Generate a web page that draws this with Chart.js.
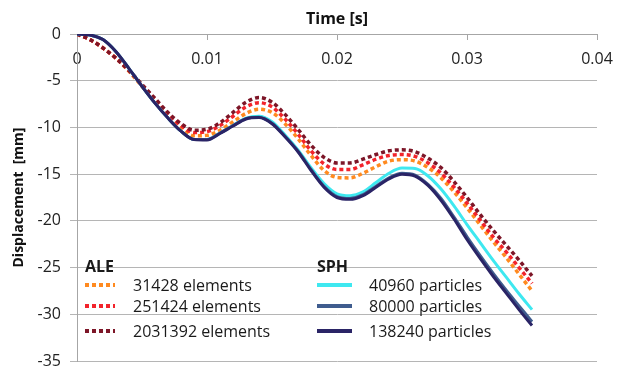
<!DOCTYPE html>
<html>
<head>
<meta charset="utf-8">
<script src="https://cdn.jsdelivr.net/npm/chart.js@4.4.1/dist/chart.umd.min.js"></script>
<style>
    html, body { margin: 0; padding: 0; background: #fff; }
    #wrap { position: relative; width: 624px; height: 367px; font-family: 'Open Sans', sans-serif; }
    .lg { position: absolute; font-size: 16px; color: #1a1a1a; white-space: nowrap; line-height: 20px; }
    .hd { font-weight: bold; }
    .sw { position: absolute; height: 4px; }
</style>
</head>
<body>
<div id="wrap">
    <canvas id="dispChart" width="624" height="367"></canvas>
    <div id="legend"></div>
</div>
<script>
const times = [0, 0.001, 0.002, 0.003, 0.004, 0.005, 0.006, 0.007, 0.008, 0.009,
    0.010, 0.011, 0.012, 0.013, 0.014, 0.015, 0.016, 0.017, 0.018, 0.019,
    0.020, 0.021, 0.022, 0.023, 0.024, 0.025, 0.026, 0.027, 0.028, 0.029,
    0.030, 0.031, 0.032, 0.033, 0.034, 0.035];

// ALE (dotted)
const ale31428 = [0, -0.6, -1.5, -2.6, -4.0, -5.6, -7.2, -8.8, -10.1, -10.9,
    -10.85, -10.3, -9.4, -8.5, -8.05, -8.4, -9.6, -11.2, -13.0, -14.6,
    -15.35, -15.4, -14.9, -14.2, -13.6, -13.45, -13.6, -14.3, -15.4, -16.9,
    -18.6, -20.4, -22.2, -23.9, -25.7, -27.5];
const ale251424 = [0, -0.6, -1.5, -2.6, -3.9, -5.5, -7.0, -8.6, -9.8, -10.55,
    -10.45, -9.8, -8.8, -7.8, -7.35, -7.8, -9.1, -10.7, -12.5, -13.9,
    -14.5, -14.5, -14.0, -13.4, -13.0, -12.9, -13.1, -13.8, -14.9, -16.4,
    -18.1, -19.9, -21.7, -23.3, -25.0, -26.7];
const ale2031392 = [0, -0.6, -1.5, -2.6, -3.9, -5.4, -6.9, -8.4, -9.6, -10.3,
    -10.2, -9.5, -8.4, -7.3, -6.8, -7.3, -8.6, -10.2, -11.9, -13.2,
    -13.8, -13.8, -13.4, -12.9, -12.5, -12.4, -12.6, -13.3, -14.3, -15.8,
    -17.5, -19.3, -21.0, -22.6, -24.2, -25.9];

// SPH (solid)
const sph40960 = [0, -0.1, -0.6, -1.9, -3.7, -5.6, -7.4, -9.0, -10.4, -11.3,
    -11.3, -10.6, -9.8, -9.0, -8.8, -9.4, -10.8, -12.4, -14.3, -16.0,
    -17.1, -17.3, -16.9, -15.9, -14.9, -14.35, -14.4, -15.2, -16.6, -18.4,
    -20.4, -22.3, -24.2, -26.0, -27.8, -29.5];
const sph80000 = [0, -0.1, -0.6, -1.9, -3.7, -5.6, -7.4, -9.0, -10.4, -11.3,
    -11.3, -10.6, -9.8, -9.05, -8.9, -9.55, -10.95, -12.55, -14.5, -16.3,
    -17.4, -17.6, -17.2, -16.3, -15.4, -14.9, -15.1, -16.1, -17.6, -19.6,
    -21.7, -23.7, -25.6, -27.4, -29.1, -30.8];
const sph138240 = [0, -0.1, -0.6, -1.9, -3.7, -5.6, -7.4, -9.0, -10.4, -11.3,
    -11.35, -10.65, -9.85, -9.1, -8.95, -9.6, -11.0, -12.6, -14.6, -16.4,
    -17.5, -17.7, -17.3, -16.4, -15.5, -15.0, -15.2, -16.2, -17.8, -19.8,
    -22.0, -24.0, -25.9, -27.7, -29.5, -31.2];

const xTickLabels = ['0', '0.01', '0.02', '0.03', '0.04'];

const aleSeries = [
    { label: '31428 elements', data: ale31428, color: '#ff8a1f' },
    { label: '251424 elements', data: ale251424, color: '#f2232b' },
    { label: '2031392 elements', data: ale2031392, color: '#7d1628' }
];
const sphSeries = [
    { label: '40960 particles', data: sph40960, color: '#3ee8f0' },
    { label: '80000 particles', data: sph80000, color: '#3f5c8e' },
    { label: '138240 particles', data: sph138240, color: '#2a2466' }
];

const pts = vals => vals.map((v, i) => ({ x: times[i], y: v }));

// later entries should sit on top, chart.js paints index 0 last
const datasets = [];
[...sphSeries].reverse().forEach(s => datasets.push({
    label: s.label, data: pts(s.data), borderColor: s.color, borderWidth: 3,
    pointRadius: 0, cubicInterpolationMode: 'monotone', fill: false
}));
[...aleSeries].reverse().forEach(s => datasets.push({
    label: s.label, data: pts(s.data), borderColor: s.color, borderWidth: 3.5,
    borderDash: [4, 3], pointRadius: 0, cubicInterpolationMode: 'monotone', fill: false
}));

const topTitle = {
    id: 'topTitle',
    afterDraw(c) {
        const { ctx, chartArea } = c;
        ctx.save();
        ctx.font = 'bold 16px "Open Sans"';
        ctx.fillStyle = '#111';
        ctx.textAlign = 'center';
        ctx.textBaseline = 'middle';
        ctx.fillText('Time [s]', (chartArea.left + chartArea.right) / 2, 19);
        ctx.restore();
    }
};

new Chart(document.getElementById('dispChart'), {
    type: 'line',
    data: { datasets },
    plugins: [topTitle],
    options: {
        responsive: false,
        animation: false,
        devicePixelRatio: 1,
        layout: { padding: { left: 0, right: 27, top: 34, bottom: 6 } },
        plugins: { legend: { display: false }, tooltip: { enabled: false } },
        scales: {
            x: {
                type: 'linear',
                position: { y: 0 },
                min: 0, max: 0.04,
                ticks: {
                    stepSize: 0.01, padding: 11, color: '#222',
                    font: { family: 'Open Sans', size: 16 },
                    callback: (v, i) => xTickLabels[i]
                },
                grid: { drawOnChartArea: false, tickLength: 5, color: '#a6a6a6' },
                border: { color: '#a6a6a6' }
            },
            y: {
                min: -35, max: 0,
                ticks: { stepSize: 5, padding: 9, color: '#222', font: { family: 'Open Sans', size: 16 } },
                grid: { color: '#b5b5b5', tickLength: 7 },
                border: { color: '#a6a6a6' },
                title: {
                    display: true, text: 'Displacement  [mm]', color: '#111',
                    font: { family: 'Open Sans', size: 14, weight: 'bold' },
                    padding: { top: 11, bottom: 0 }
                },
                afterFit: s => { s.width = 77; s.paddingTop = 0; s.paddingBottom = 0; }
            }
        }
    }
});

// legend: two groups with headings
const legend = document.getElementById('legend');
function addGroup(title, series, x0, dotted) {
    const h = document.createElement('div');
    h.className = 'lg hd';
    h.style.left = x0 + 'px';
    h.style.top = '256px';
    h.textContent = title;
    legend.appendChild(h);
    const rows = [285, 306, 331];
    series.forEach((s, i) => {
        const sw = document.createElement('div');
        sw.className = 'sw';
        sw.style.left = x0 + 'px';
        sw.style.top = (rows[i] - 2) + 'px';
        sw.style.width = (dotted ? 30 : 35) + 'px';
        sw.style.background = dotted
            ? `repeating-linear-gradient(90deg, ${s.color} 0 4px, transparent 4px 7px)`
            : s.color;
        legend.appendChild(sw);
        const t = document.createElement('div');
        t.className = 'lg';
        t.style.left = (x0 + (dotted ? 48 : 52)) + 'px';
        t.style.top = (rows[i] - 10) + 'px';
        t.textContent = s.label;
        legend.appendChild(t);
    });
}
addGroup('ALE', aleSeries, 85, true);
addGroup('SPH', sphSeries, 317, false);
</script>
</body>
</html>
